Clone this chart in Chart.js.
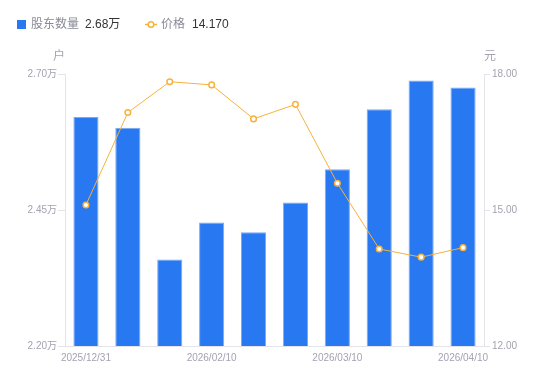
<!DOCTYPE html>
<html>
<head>
<meta charset="utf-8">
<script src="https://cdn.jsdelivr.net/npm/chart.js@4"></script>
<style>
html,body{margin:0;padding:0;background:#fff;}
#wrap{width:550px;height:381px;position:relative;}
</style>
</head>
<body>
<div id="wrap"><canvas id="c" width="550" height="381"></canvas></div>
<script>
const categories = ["2025/12/31","2026/01/09","2026/01/20","2026/02/10","2026/02/20","2026/02/28","2026/03/10","2026/03/20","2026/03/31","2026/04/10"];
const holders = [2.621, 2.601, 2.359, 2.427, 2.409, 2.464, 2.525, 2.635, 2.688, 2.675];
const prices = [15.11, 17.15, 17.83, 17.76, 17.01, 17.33, 15.59, 14.14, 13.96, 14.17];
const holderTicks = [2.20, 2.45, 2.70];
const priceTicks = [12, 15, 18];
const legendNames = ["股东数量", "价格"];
const legendValues = ["2.68万", "14.170"];
const unitLeft = "户";
const unitRight = "元";

const FONT = '"Liberation Sans", Arial, "Noto Sans CJK SC", sans-serif';
const TICK = '#a3a3b3';
const AXIS = '#e3e3e8';
const BLUE = '#2878F2';
const ORANGE = '#F7B23B';

const overlay = {
  id: 'overlay',
  afterDraw(chart) {
    const ctx = chart.ctx;
    ctx.save();
    ctx.textBaseline = 'middle';
    // legend
    ctx.fillStyle = BLUE;
    ctx.fillRect(17, 20, 9, 9);
    ctx.font = '12px ' + FONT;
    ctx.textAlign = 'left';
    ctx.fillStyle = '#8a8a96';
    ctx.fillText(legendNames[0], 31, 25);
    ctx.fillStyle = '#333333';
    ctx.fillText(legendValues[0], 85, 25);
    ctx.strokeStyle = ORANGE;
    ctx.lineWidth = 1.5;
    ctx.beginPath(); ctx.moveTo(145, 24.5); ctx.lineTo(157, 24.5); ctx.stroke();
    ctx.fillStyle = '#fff';
    ctx.beginPath(); ctx.arc(151, 24.5, 2.8, 0, Math.PI*2); ctx.fill(); ctx.stroke();
    ctx.fillStyle = '#8a8a96';
    ctx.fillText(legendNames[1], 161, 25);
    ctx.fillStyle = '#333333';
    ctx.fillText(legendValues[1], 192, 25);
    // units
    ctx.font = '12px ' + FONT;
    ctx.fillStyle = TICK;
    ctx.textAlign = 'center';
    ctx.fillText(unitLeft, 59, 57);
    ctx.fillText(unitRight, 490, 57);
    ctx.restore();
  }
};

new Chart(document.getElementById('c'), {
  data: {
    labels: categories,
    datasets: [
      {
        type: 'line',
        label: legendNames[1],
        data: prices,
        yAxisID: 'y1',
        borderColor: ORANGE,
        borderWidth: 1,
        pointRadius: 2.8,
        pointBorderWidth: 1.5,
        pointBackgroundColor: '#fff',
        pointBorderColor: ORANGE,
        tension: 0,
        order: 0
      },
      {
        type: 'bar',
        label: legendNames[0],
        data: holders,
        yAxisID: 'y',
        backgroundColor: BLUE,
        borderColor: '#7aa9f5',
        borderWidth: {top: 1, left: 1, right: 1, bottom: 0},
        barPercentage: 0.6,
        categoryPercentage: 1,
        order: 1
      }
    ]
  },
  plugins: [overlay],
  options: {
    responsive: false,
    animation: false,
    layout: { padding: { top: 74, left: 0, right: 0, bottom: 0 } },
    plugins: { legend: { display: false }, tooltip: { enabled: false } },
    scales: {
      x: {
        offset: true,
        grid: { display: false, drawTicks: false },
        border: { color: AXIS, width: 1 },
        ticks: {
          autoSkip: false, maxRotation: 0, color: TICK, padding: 6,
          font: { size: 10, family: FONT },
          callback: function(v, i) { return i % 3 === 0 ? categories[i] : ''; }
        },
        afterFit(s) { s.height = 35; }
      },
      y: {
        position: 'left', min: 2.20, max: 2.70,
        afterBuildTicks(s) { s.ticks = holderTicks.map(v => ({ value: v })); },
        grid: { drawOnChartArea: false, color: AXIS, tickLength: 7 },
        border: { color: AXIS },
        ticks: { color: TICK, padding: 1, font: { size: 10, family: FONT },
          callback: v => v.toFixed(2) + '万' },
        afterFit(s) { s.width = 65; }
      },
      y1: {
        position: 'right', min: 12, max: 18,
        afterBuildTicks(s) { s.ticks = priceTicks.map(v => ({ value: v })); },
        grid: { drawOnChartArea: false, color: AXIS, tickLength: 6 },
        border: { color: AXIS },
        ticks: { color: TICK, padding: 2, font: { size: 10, family: FONT },
          callback: v => v.toFixed(2) },
        afterFit(s) { s.width = 66; }
      }
    }
  }
});
</script>
</body>
</html>
